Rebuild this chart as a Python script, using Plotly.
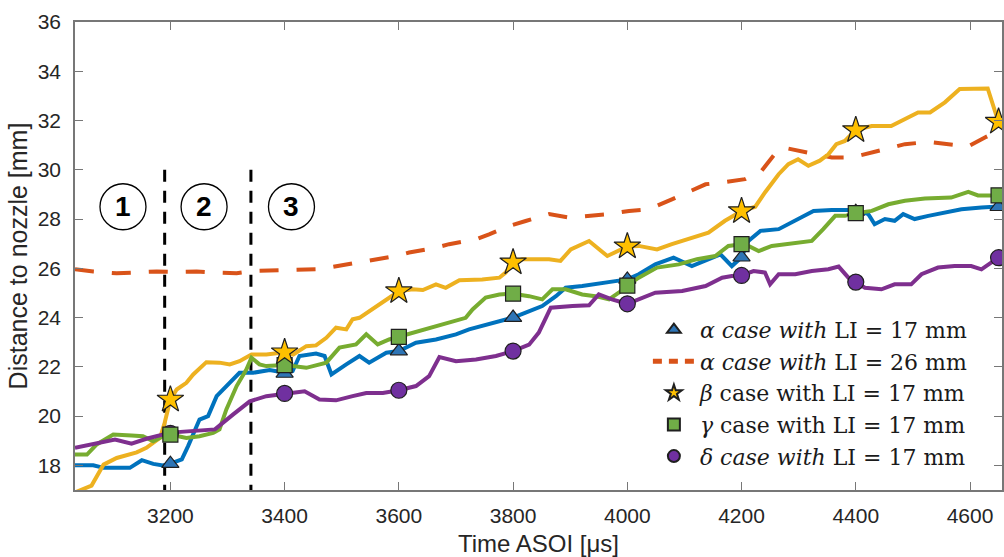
import plotly.graph_objects as go

# ---- time samples (µs ASOI) and penetration distance (mm) ----
alpha17_t = [3033, 3065, 3083, 3129, 3150, 3170, 3187, 3200, 3220, 3231, 3251, 3266, 3281, 3298,
             3321, 3345, 3374, 3400, 3414, 3426, 3455, 3470, 3482, 3508, 3531, 3548, 3578, 3600,
             3630, 3665, 3700, 3723, 3758, 3800, 3822, 3851, 3875, 3892, 3921, 3956, 3979, 4000,
             4020, 4049, 4081, 4113, 4142, 4163, 4183, 4200, 4212, 4233, 4265, 4294, 4326, 4358,
             4400, 4422, 4433, 4451, 4468, 4483, 4503, 4527, 4556, 4585, 4620, 4650]
alpha17_v = [18.0, 18.0, 17.9, 17.9, 18.21, 18.06, 18.0, 18.07, 18.24, 18.78, 19.86, 20.0, 20.81, 21.22,
             21.76, 21.76, 21.87, 21.76, 21.83, 22.44, 22.54, 22.44, 21.69, 22.1, 22.44, 22.17, 22.57, 22.64,
             22.98, 23.11, 23.32, 23.52, 23.72, 24.0, 24.2, 24.47, 24.87, 25.21, 25.28, 25.42, 25.48, 25.55,
             25.76, 26.16, 26.43, 26.09, 26.37, 26.57, 26.09, 26.45, 27.11, 27.52, 27.59, 27.93, 28.33, 28.37,
             28.37, 28.2, 27.79, 28.0, 27.93, 28.2, 28.0, 28.13, 28.27, 28.4, 28.47, 28.51]

alpha26_t = [3033, 3065, 3106, 3135, 3176, 3205, 3246, 3275, 3316, 3345, 3385, 3415, 3455, 3484,
             3531, 3595, 3618, 3665, 3688, 3735, 3758, 3793, 3822, 3863, 3898, 3939, 3968, 4003,
             4038, 4078, 4137, 4163, 4206, 4235, 4253, 4265, 4282, 4329, 4358, 4393, 4416, 4457,
             4486, 4527, 4556, 4597, 4626, 4650]
alpha26_v = [25.96, 25.87, 25.8, 25.83, 25.87, 25.85, 25.87, 25.83, 25.8, 25.89, 25.92, 25.96, 25.96, 26.06,
             26.26, 26.5, 26.64, 26.84, 26.98, 27.18, 27.38, 27.72, 27.92, 28.2, 28.06, 28.13, 28.2, 28.33,
             28.4, 28.8, 29.41, 29.48, 29.62, 29.96, 30.5, 30.84, 30.86, 30.63, 30.5, 30.5, 30.63, 30.86,
             31.04, 31.13, 31.04, 30.95, 31.31, 31.58]

beta_t = [3033, 3062, 3083, 3106, 3141, 3158, 3182, 3190, 3200, 3211, 3228, 3240, 3263, 3286, 3304,
          3321, 3342, 3368, 3400, 3415, 3438, 3455, 3473, 3490, 3508, 3519, 3531, 3548, 3572, 3600,
          3624, 3642, 3665, 3682, 3706, 3746, 3776, 3787, 3800, 3816, 3863, 3883, 3901, 3933, 3965,
          4000, 4020, 4052, 4078, 4113, 4142, 4171, 4200, 4224, 4241, 4265, 4282, 4299, 4317, 4337,
          4352, 4366, 4381, 4400, 4428, 4462, 4486, 4509, 4530, 4556, 4582, 4631, 4650]
beta_v = [16.9, 17.18, 18.03, 18.3, 18.53, 18.71, 19.12, 19.73, 20.67, 21.08, 21.35, 21.69, 22.19, 22.17, 22.1,
          22.23, 22.5, 22.5, 22.59, 22.5, 22.84, 22.87, 23.18, 23.59, 23.52, 23.93, 23.99, 24.26, 24.67, 25.07,
          25.15, 25.12, 25.35, 25.21, 25.52, 25.55, 25.62, 25.83, 26.24, 26.37, 26.37, 26.3, 26.77, 27.11, 26.5,
          26.89, 26.91, 26.77, 26.98, 27.25, 27.45, 27.93, 28.32, 28.5, 29.08, 29.82, 30.23, 30.43, 30.16, 30.37,
          30.63, 31.04, 31.17, 31.62, 31.78, 31.78, 32.06, 32.33, 32.33, 32.74, 33.28, 33.3, 31.92]

gamma_t = [3033, 3054, 3071, 3100, 3132, 3152, 3170, 3187, 3200, 3228, 3251, 3275, 3286, 3298, 3316,
           3333, 3342, 3356, 3368, 3400, 3438, 3473, 3496, 3525, 3543, 3563, 3583, 3600, 3624, 3653,
           3677, 3700, 3717, 3729, 3752, 3776, 3800, 3828, 3851, 3869, 3892, 3921, 3944, 3968, 3985,
           4000, 4020, 4052, 4090, 4122, 4154, 4177, 4200, 4212, 4230, 4253, 4282, 4323, 4343, 4364,
           4381, 4400, 4428, 4457, 4486, 4521, 4567, 4597, 4614, 4650]
gamma_v = [18.44, 18.44, 18.85, 19.25, 19.21, 19.18, 18.98, 19.18, 19.25, 19.11, 19.18, 19.32, 19.46, 20.27, 21.22,
           21.89, 22.37, 22.1, 22.03, 22.07, 21.96, 22.17, 22.78, 22.91, 23.32, 22.91, 23.11, 23.22, 23.39, 23.59,
           23.72, 23.86, 23.99, 24.33, 24.81, 24.94, 24.97, 24.87, 24.74, 25.15, 25.15, 24.94, 24.87, 24.74, 25.01,
           25.3, 25.62, 26.03, 26.16, 26.37, 26.5, 26.91, 26.98, 26.91, 26.7, 26.91, 26.98, 27.11, 27.59, 28.13,
           28.13, 28.24, 28.33, 28.6, 28.74, 28.83, 28.87, 29.1, 28.96, 28.96]

delta_t = [3033, 3065, 3103, 3132, 3158, 3200, 3240, 3278, 3310, 3339, 3368, 3400, 3435, 3461, 3490,
           3519, 3543, 3572, 3600, 3630, 3653, 3671, 3700, 3735, 3770, 3800, 3828, 3845, 3866, 3904,
           3933, 3950, 3973, 4000, 4026, 4049, 4096, 4137, 4166, 4183, 4200, 4221, 4241, 4250, 4265,
           4294, 4323, 4352, 4370, 4387, 4400, 4416, 4445, 4468, 4497, 4515, 4544, 4573, 4602, 4620,
           4637, 4650]
delta_v = [18.71, 18.88, 19.05, 18.88, 19.08, 19.33, 19.39, 19.46, 20.07, 20.6, 20.81, 20.92, 21.01, 20.67, 20.64,
           20.81, 20.94, 20.94, 21.05, 21.22, 21.62, 22.4, 22.23, 22.3, 22.44, 22.64, 22.9, 23.39, 24.4, 24.47,
           24.5, 24.94, 24.74, 24.56, 24.8, 25.01, 25.08, 25.28, 25.62, 25.69, 25.71, 25.89, 25.83, 25.35, 25.76,
           25.76, 25.89, 25.96, 26.07, 25.62, 25.44, 25.21, 25.15, 25.35, 25.35, 25.76, 26.03, 26.09, 26.09, 25.96,
           26.23, 26.43]

# ---- marker samples every 200 µs (plus the last frame) ----
marker_t = [3200, 3400, 3600, 3800, 4000, 4200, 4400, 4650]
alpha17_mk = [18.07, 21.73, 22.64, 24.0, 25.55, 26.45, 28.3, 28.5]
beta_mk = [20.67, 22.59, 25.07, 26.24, 26.89, 28.32, 31.61, 31.95]
gamma_mk = [19.25, 22.07, 23.22, 24.97, 25.3, 26.98, 28.24, 28.96]
delta_mk = [19.3, 20.92, 21.05, 22.64, 24.56, 25.71, 25.44, 26.43]

# ---- phase boundaries and phase labels ----
phase_bounds = [3190, 3341]
phase_bound_top = 30
phase_labels = ["1", "2", "3"]
phase_label_t = [3117, 3259, 3412]
phase_label_y = 28.5

x_ticks = [3200, 3400, 3600, 3800, 4000, 4200, 4400, 4600]
y_ticks = [18, 20, 22, 24, 26, 28, 30, 32, 34, 36]

BLUE, ORANGE, YELLOW, GREEN, PURPLE = "#0072BD", "#D95319", "#EDB120", "#77AC30", "#7E2F8E"
EDGE = dict(color="#1f1f1f", width=1.2)
SANS = "Liberation Sans, Arial"

fig = go.Figure()

# phase boundary lines
for b in phase_bounds:
    fig.add_trace(go.Scatter(x=[b, b], y=[phase_bound_top, 17], mode="lines",
                             line=dict(color="black", width=3, dash="12px,9px"),
                             showlegend=False, hoverinfo="skip"))

# continuous traces
fig.add_trace(go.Scatter(x=alpha17_t, y=alpha17_v, mode="lines", line=dict(color=BLUE, width=4),
                         showlegend=False))
fig.add_trace(go.Scatter(x=alpha26_t, y=alpha26_v, mode="lines",
                         line=dict(color=ORANGE, width=4, dash="19px,18px"),
                         showlegend=False))
fig.add_trace(go.Scatter(x=beta_t, y=beta_v, mode="lines", line=dict(color=YELLOW, width=4),
                         showlegend=False))
fig.add_trace(go.Scatter(x=gamma_t, y=gamma_v, mode="lines", line=dict(color=GREEN, width=4),
                         showlegend=False))
fig.add_trace(go.Scatter(x=delta_t, y=delta_v, mode="lines", line=dict(color=PURPLE, width=4),
                         showlegend=False))

# legend key for the dashed series (short dashes)
fig.add_trace(go.Scatter(x=[None], y=[None], mode="lines",
                         line=dict(color=ORANGE, width=3, dash="9px,7px"),
                         name="<i>α case with</i> LI = 26 mm", legendrank=2))

# markers
fig.add_trace(go.Scatter(x=marker_t, y=delta_mk, mode="markers",
                         marker=dict(symbol="circle", size=16, color="#7030A0", line=EDGE),
                         name="<i>δ case with</i> LI = 17 mm", legendrank=5))
fig.add_trace(go.Scatter(x=marker_t, y=alpha17_mk, mode="markers",
                         marker=dict(symbol="triangle-up", size=15, color="#2E75B6", line=EDGE),
                         name="<i>α case with</i> LI = 17 mm", legendrank=1))
fig.add_trace(go.Scatter(x=marker_t, y=gamma_mk, mode="markers",
                         marker=dict(symbol="square", size=15, color="#70AD47", line=EDGE),
                         name="<i>γ</i> case with LI = 17 mm", legendrank=4))
fig.add_trace(go.Scatter(x=marker_t, y=beta_mk, mode="markers",
                         marker=dict(symbol="star", size=20, color="#FFC000", line=EDGE),
                         name="<i>β</i> case with LI = 17 mm", legendrank=3))

# circled phase numbers
for lab, t in zip(phase_labels, phase_label_t):
    fig.add_shape(type="circle", xref="x", yref="y", xsizemode="pixel", ysizemode="pixel",
                  xanchor=t, yanchor=phase_label_y, x0=-23, x1=23, y0=-23, y1=23,
                  line=dict(color="black", width=1.3))
    fig.add_annotation(x=t, y=phase_label_y, text=f"<b>{lab}</b>", showarrow=False,
                       font=dict(family=SANS, size=28, color="black"))

axis_common = dict(showline=True, linecolor="#777777", linewidth=1.5, mirror="ticks",
                   ticks="inside", ticklen=8, tickwidth=1.2, tickcolor="#777777",
                   showgrid=False, zeroline=False,
                   tickfont=dict(family=SANS, size=21, color="#262626"))

fig.update_layout(
    width=1004, height=557,
    margin=dict(l=75, r=0, t=22, b=67),
    paper_bgcolor="white", plot_bgcolor="white",
    xaxis=dict(range=[3033, 4656], tickvals=x_ticks, ticklabelstandoff=6,
               title=dict(text="Time ASOI [μs]", standoff=9,
                          font=dict(family=SANS, size=24, color="#262626")),
               **axis_common),
    yaxis=dict(range=[17, 36], tickvals=y_ticks, ticklabelstandoff=8,
               title=dict(text="Distance to nozzle [mm]", standoff=3,
                          font=dict(family=SANS, size=25, color="#262626")),
               **axis_common),
    legend=dict(x=0.618, y=0.387, xanchor="left", yanchor="top", bgcolor="rgba(0,0,0,0)",
                font=dict(family="DejaVu Serif", size=22, color="#1a1a1a"),
                tracegroupgap=0, itemsizing="constant", itemwidth=42),
    showlegend=True,
)

fig.write_html("out.html")
